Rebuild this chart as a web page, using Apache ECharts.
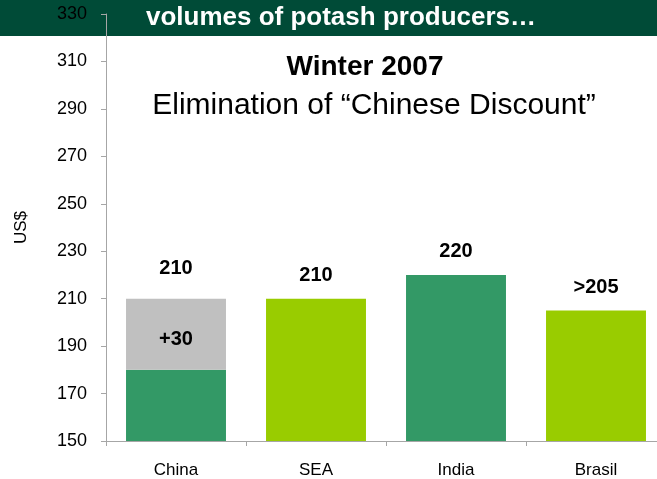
<!DOCTYPE html>
<html>
<head>
<meta charset="utf-8">
<script src="https://cdn.jsdelivr.net/npm/echarts@6/dist/echarts.min.js"></script>
<style>
  html, body { margin: 0; padding: 0; background: #fff; overflow: hidden; width: 657px; height: 479px; }
  #chart { width: 667px; height: 479px; }
</style>
</head>
<body>
<div id="chart"></div>
<script>
// Winter 2007 potash contract prices by market (US$)
const categories = ['China', 'SEA', 'India', 'Brasil'];
const baseValues = [180, 210, 220, 205];
const premiumValues = [30, null, null, null];
const totalLabels = ['210', '210', '220', '>205'];
const premiumLabels = ['+30', null, null, null];
const yTicks = { min: 150, max: 330, step: 20 };

const DARK = '#339966';
const LIME = '#99CC00';
const GREY = '#C0C0C0';
const barColors = [DARK, LIME, DARK, LIME];
const FONT = 'Liberation Sans, Arial, sans-serif';

const chart = echarts.init(document.getElementById('chart'), null, { renderer: 'canvas' });

const labelFont = { fontFamily: FONT, fontSize: 20, fontWeight: 'bold', color: '#000' };

// Base bars; markets without a premium carry their total label on top
const baseData = baseValues.map((v, i) => ({
  value: v,
  itemStyle: { color: barColors[i] },
  label: premiumValues[i] == null
    ? { show: true, position: 'top', distance: 13, formatter: totalLabels[i], ...labelFont }
    : { show: false }
}));

// Grey premium segment stacked on top, with the total above and the premium inside
const premiumData = premiumValues.map((v, i) => v == null ? '-' : ({
  value: v,
  itemStyle: { color: GREY },
  label: { show: true, position: 'top', distance: 20, formatter: totalLabels[i], ...labelFont }
}));

const premiumInside = premiumValues
  .map((v, i) => v == null ? null : [i, baseValues[i] + v / 2])
  .filter(d => d !== null);

chart.setOption({
  animation: false,
  backgroundColor: '#fff',
  graphic: [
    { type: 'rect', z: -10, shape: { x: 0, y: 0, width: 667, height: 36 }, style: { fill: '#004B37' } },
    { type: 'text', z: 10, x: 341, y: 18,
      style: { text: 'volumes of potash producers…', fill: '#fff', font: 'bold 26px ' + FONT, align: 'center', verticalAlign: 'middle' } },
    { type: 'text', z: 10, x: 365, y: 67,
      style: { text: 'Winter 2007', fill: '#000', font: 'bold 28px ' + FONT, align: 'center', verticalAlign: 'middle' } },
    { type: 'text', z: 10, x: 374, y: 106,
      style: { text: 'Elimination of “Chinese Discount”', fill: '#000', font: '30px ' + FONT, align: 'center', verticalAlign: 'middle' } }
  ],
  grid: { left: 106, top: 14, width: 560, height: 427.5, containLabel: false },
  xAxis: {
    type: 'category',
    data: categories,
    axisLine: { lineStyle: { color: '#A6A6A6', width: 1 } },
    axisTick: { show: true, length: 5, lineStyle: { color: '#A6A6A6' } },
    axisLabel: { color: '#000', fontSize: 17, fontFamily: FONT, margin: 21 }
  },
  yAxis: {
    type: 'value',
    min: yTicks.min, max: yTicks.max, interval: yTicks.step,
    name: 'US$', nameLocation: 'middle', nameGap: 76, nameRotate: 90,
    nameTextStyle: { color: '#000', fontSize: 17, fontFamily: FONT },
    splitLine: { show: false },
    axisLine: { show: true, lineStyle: { color: '#A6A6A6', width: 1 } },
    axisTick: { show: true, length: 5, lineStyle: { color: '#A6A6A6' } },
    axisLabel: { color: '#000', fontSize: 18, fontFamily: FONT, margin: 19 }
  },
  series: [
    { type: 'bar', stack: 'price', data: baseData, barCategoryGap: '28.6%' },
    { type: 'bar', stack: 'price', data: premiumData, barCategoryGap: '28.6%' },
    {
      type: 'custom',
      data: premiumInside,
      encode: { x: 0, y: 1 },
      z: 5,
      renderItem: (params, api) => {
        const p = api.coord([api.value(0), api.value(1)]);
        return { type: 'text', x: p[0], y: p[1] + 5,
          style: { text: premiumLabels[api.value(0)], fill: '#000', font: 'bold 20px ' + FONT, align: 'center', verticalAlign: 'middle' } };
      }
    }
  ]
});
</script>
</body>
</html>
